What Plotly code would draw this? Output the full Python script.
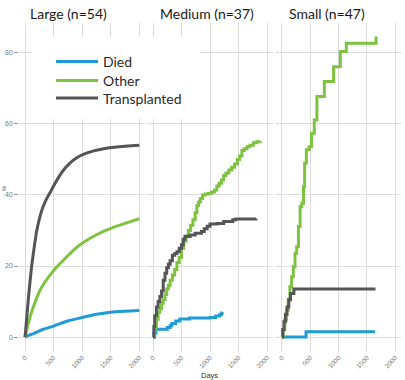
import plotly.graph_objects as go

# ---------------- data ----------------
panel_titles = ["Large (n=54)", "Medium (n=37)", "Small (n=47)"]
series_names = ["Died", "Other", "Transplanted"]
x_ticks = [0, 500, 1000, 1500, 2000]
y_ticks = [0, 20, 40, 60, 80]

# Large (smooth)
large_died_days = [0, 50, 150, 320, 500, 760, 1000, 1250, 1500, 1750, 2000]
large_died_pct = [0, 0.4, 1.0, 2.2, 3.1, 4.6, 5.5, 6.4, 7.0, 7.3, 7.5]
large_other_days = [0, 30, 60, 90, 150, 200, 260, 350, 500, 600, 731, 850, 1000, 1250, 1500, 1750, 2000]
large_other_pct = [0, 2.0, 4.0, 5.8, 8.7, 10.8, 13.1, 15.5, 18.7, 20.5, 22.6, 24.5, 26.4, 28.8, 30.6, 32.0, 33.3]
large_trans_days = [0, 30, 60, 90, 120, 150, 200, 250, 300, 350, 400, 450, 500, 600, 700, 800,
                    900, 1000, 1200, 1400, 1600, 1800, 2000]
large_trans_pct = [0, 5.5, 11.0, 16.0, 20.5, 24.0, 29.5, 33.2, 36.0, 38.0, 39.6, 41.0, 42.5, 45.3,
                   47.5, 49.2, 50.4, 51.3, 52.4, 53.1, 53.5, 53.8, 54.0]

# Medium (steps)
med_died_days = [0, 15, 50, 250, 300, 330, 400, 470, 640, 1000, 1100, 1170, 1200, 1215]
med_died_pct = [0, 1.1, 2.2, 2.7, 3.2, 3.8, 4.5, 5.1, 5.4, 5.5, 5.9, 6.3, 6.8, 7.0]
med_other_days = [0, 30, 60, 90, 120, 150, 180, 210, 240, 270, 300, 340, 380, 420, 460,
                  500, 540, 580, 620, 660, 700, 740, 770, 800, 830, 870, 920, 970, 1030,
                  1080, 1120, 1160, 1200, 1240, 1280, 1330, 1380, 1430, 1480, 1520, 1560,
                  1600, 1650, 1700, 1760, 1820, 1880]
med_other_pct = [0, 2.7, 5.0, 7.0, 8.0, 9.5, 10.5, 12.0, 13.5, 14.5, 16.0, 17.5, 19.0, 21.0,
                 22.5, 25.0, 27.0, 28.5, 30.0, 31.5, 33.0, 35.0, 37.0, 38.0, 39.0, 40.0, 40.3,
                 40.5, 40.8, 41.4, 42.5, 43.3, 44.2, 45.5, 46.2, 47.0, 47.8, 48.7, 50.0, 51.0,
                 52.5, 53.0, 53.6, 54.0, 54.7, 55.0, 55.2]
med_trans_days = [0, 15, 30, 60, 90, 120, 150, 180, 210, 240, 270, 300, 340, 380, 420, 460,
                  500, 530, 560, 650, 740, 850, 900, 950, 1000, 1120, 1240, 1400, 1450, 1806]
med_trans_pct = [0, 3.0, 6.0, 8.5, 10.0, 11.4, 13.0, 16.0, 18.0, 19.5, 20.5, 21.5, 23.0,
                 23.5, 24.0, 25.0, 26.0, 27.5, 28.3, 28.7, 29.2, 29.7, 30.5, 31.2, 31.8, 32.0,
                 32.5, 33.0, 33.2, 33.4]

# Small (steps)
small_died_days = [0, 425, 1640]
small_died_pct = [0, 1.5, 1.5]
small_other_days = [0, 20, 50, 80, 110, 140, 170, 200, 230, 260, 290, 320, 350, 380, 400,
                    430, 480, 520, 570, 617, 747, 911, 1029, 1135, 1660]
small_other_pct = [0, 2.1, 4.8, 7.6, 10.4, 14.2, 17.0, 19.8, 23.6, 25.4, 31.1, 36.7, 37.7,
                   42.3, 48.9, 52.7, 53.6, 57.4, 61.1, 67.7, 71.9, 76.1, 80.4, 82.7, 84.6]
small_trans_days = [0, 15, 35, 60, 90, 120, 150, 210, 1650]
small_trans_pct = [0, 2.1, 4.3, 6.4, 8.5, 10.6, 12.3, 13.5, 13.5]

colors = {"Died": "#1f9bd6", "Other": "#7ec242", "Transplanted": "#555555"}

panels = [
    ("spline", [(large_died_days, large_died_pct), (large_other_days, large_other_pct),
                (large_trans_days, large_trans_pct)]),
    ("hv", [(med_died_days, med_died_pct), (med_other_days, med_other_pct),
            (med_trans_days, med_trans_pct)]),
    ("hv", [(small_died_days, small_died_pct), (small_other_days, small_other_pct),
            (small_trans_days, small_trans_pct)]),
]

# ---------------- layout geometry ----------------
W, H = 405, 380
L, R, T, B = 19, 3, 23, 28
PW, PH = W - L - R, H - T - B

def px_x(p):
    return (p - L) / PW

def px_y(p):
    return 1 - (p - T) / PH

domains = [[px_x(19.3), px_x(145.0)], [px_x(147.3), px_x(272.7)], [px_x(276.3), px_x(401.0)]]
legend_keys = ["legend", "legend2", "legend3"]

fig = go.Figure()
for i, (shape, series) in enumerate(panels):
    xa = "x" if i == 0 else f"x{i+1}"
    for j, (name, (d, v)) in enumerate(zip(series_names, series)):
        fig.add_trace(go.Scatter(
            x=d, y=v, mode="lines", name=name, legendgroup=name,
            legend=legend_keys[j],
            showlegend=(i == 0), xaxis=xa, yaxis="y",
            line=dict(color=colors[name], width=3, shape=shape,
                      **({"smoothing": 0.5} if shape == "spline" else {})),
            hoverinfo="skip",
        ))

axis_common = dict(
    range=[-100, 2100], tickvals=x_ticks, ticktext=[str(t) for t in x_ticks],
    tickangle=-45, tickfont=dict(size=6.5, color="#7a7a7a", family="Liberation Sans"),
    showgrid=True, gridcolor="#dcdcdc", gridwidth=1, zeroline=False,
    showline=False, ticks="", fixedrange=True,
)
layout = dict(
    width=W, height=H, margin=dict(l=L, r=R, t=T, b=B, pad=0, autoexpand=False),
    paper_bgcolor="white", plot_bgcolor="white",
    showlegend=True,
    yaxis=dict(range=[-4.2, 88.4], tickvals=y_ticks, ticktext=[str(t) for t in y_ticks],
               tickfont=dict(size=7, color="#7a7a7a", family="Liberation Sans"),
               showgrid=True, gridcolor="#dcdcdc", gridwidth=1, zeroline=False,
               ticks="outside", ticklen=4, tickcolor="#9a9a9a", tickwidth=1,
               showline=False, anchor="x", fixedrange=True),
)
for i in range(3):
    key = "xaxis" if i == 0 else f"xaxis{i+1}"
    layout[key] = dict(axis_common, domain=domains[i], anchor="y")
fig.update_layout(**layout)

# white legend background box
fig.add_shape(type="rect", xref="paper", yref="paper",
              x0=px_x(32), x1=px_x(200), y0=px_y(119), y1=px_y(37),
              fillcolor="white", line=dict(width=0), layer="above")

legend_tops = [46, 65, 82.5]
for key, top in zip(legend_keys, legend_tops):
    fig.update_layout(**{key: dict(
        x=px_x(51), y=px_y(top), xanchor="left", yanchor="top",
        bgcolor="rgba(0,0,0,0)", borderwidth=0,
        font=dict(size=14, color="#2a2a2a", family="Lato"),
        itemwidth=42,
    )})

# panel titles
title_x = [28, 158, 287]
for t, xp in zip(panel_titles, title_x):
    fig.add_annotation(text=t, xref="paper", yref="paper", x=px_x(xp), y=px_y(13.5),
                       xanchor="left", yanchor="middle", showarrow=False,
                       font=dict(size=14, color="#1a1a1a", family="Lato"))

fig.add_annotation(text="%", xref="paper", yref="paper", x=px_x(4), y=px_y(188),
                   xanchor="center", yanchor="middle", showarrow=False, textangle=-90,
                   font=dict(size=6, color="#555555", family="Liberation Sans"))
fig.add_annotation(text="Days", xref="paper", yref="paper", x=px_x(209), y=px_y(375),
                   xanchor="center", yanchor="middle", showarrow=False,
                   font=dict(size=7.5, color="#333333", family="Liberation Sans"))

fig.write_html("out.html", config={"displayModeBar": False},
               post_script="document.body.style.margin='0';document.body.style.padding='0';")
